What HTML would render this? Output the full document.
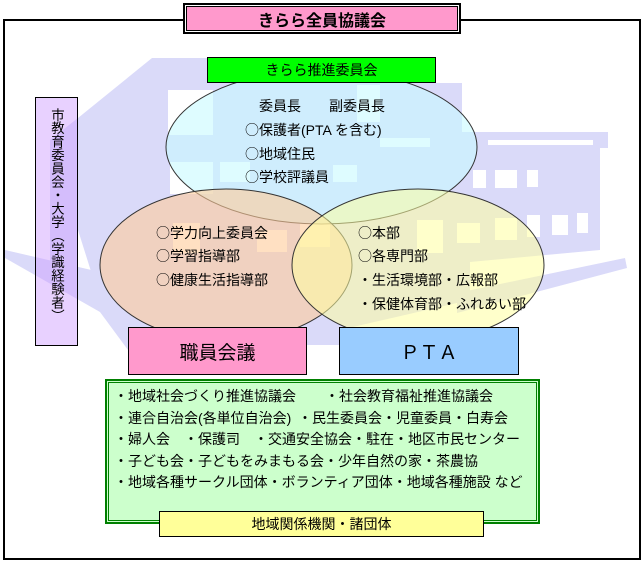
<!DOCTYPE html>
<html><head><meta charset="utf-8">
<style>
*{margin:0;padding:0;box-sizing:border-box}
html,body{width:642px;height:562px;background:#fff;overflow:hidden}
body{position:relative;font-family:"Liberation Sans","Noto Sans CJK JP",sans-serif;color:#000}
.a{position:absolute}
.t{position:absolute;font-size:14px;line-height:16px;white-space:nowrap}
.c{display:flex;align-items:center;justify-content:center}
.o{font-family:"Noto Sans CJK JP",sans-serif;}
</style></head><body>

<svg class="a" style="left:0;top:0" width="642" height="562" viewBox="0 0 642 562">
 <g fill="#dadaf9">
  <polygon points="152,58 436,58 436,83 462,83 462,132 608,132 608,148 600,148 600,250 470,262 470,300 340,330 340,345 128,345 100,300 78,230 78,118"/>
  <polygon points="78,118 50,140 50,262 78,300"/>
  <polygon points="5,250 100,272 128,282 128,350 100,312 5,258"/>
  <polygon points="457,293 625,258 627,268 457,313"/>
 </g>
 <g fill="#ffffff">
  <rect x="168" y="90" width="45" height="45"/>
  <rect x="170" y="162" width="43" height="32"/>
  <rect x="357" y="85" width="23" height="37"/>
  <rect x="380" y="138" width="50" height="9"/>
  <rect x="220" y="162" width="30" height="20"/>
  <rect x="333" y="165" width="24" height="17"/>
  <rect x="173" y="223" width="27" height="30"/>
  <rect x="257" y="230" width="30" height="22"/>
  <rect x="300" y="223" width="30" height="24"/>
  <rect x="417" y="220" width="26" height="33"/>
  <rect x="457" y="223" width="23" height="20"/>
  <rect x="473" y="170" width="13" height="18"/>
  <rect x="495" y="170" width="22" height="18"/>
  <rect x="527" y="170" width="11" height="17"/>
  <rect x="495" y="218" width="22" height="22"/>
  <rect x="527" y="215" width="13" height="22"/>
  <rect x="552" y="215" width="16" height="20"/>
  <rect x="577" y="213" width="11" height="20"/>
  <rect x="488" y="140" width="105" height="5"/>
 </g>
 <ellipse cx="321.5" cy="147" rx="155.5" ry="77" fill="rgba(200,250,255,0.6)" stroke="#333" stroke-width="1"/>
 <ellipse cx="226" cy="265" rx="126" ry="76" fill="rgba(255,204,153,0.6)" stroke="#333" stroke-width="1"/>
 <ellipse cx="418" cy="265" rx="126" ry="76" fill="rgba(255,255,160,0.55)" stroke="#333" stroke-width="1"/>
</svg>

<!-- outer frame -->
<div class="a" style="left:3px;top:19px;width:638px;height:541px;border:2px solid #000;"></div>

<!-- title -->
<div class="a" style="left:183px;top:3px;width:278px;height:31px;border:2px solid #000;background:#fff;padding:1px;">
 <div class="c" style="width:100%;height:100%;border:1px solid #000;background:#ff99cc;font-size:16px;font-weight:bold;">きらら全員協議会</div>
</div>

<!-- green header -->
<div class="a c" style="left:207px;top:57px;width:229px;height:26px;background:#00ff00;border:1px solid #000;font-size:14px;">きらら推進委員会</div>

<!-- blue ellipse text -->
<div class="t" style="left:259px;top:98px;">委員長</div>
<div class="t" style="left:329px;top:98px;">副委員長</div>
<div class="t" style="left:245px;top:122px;"><span class="o">○</span>保護者(PTA を含む)</div>
<div class="t" style="left:245px;top:146px;"><span class="o">○</span>地域住民</div>
<div class="t" style="left:245px;top:169px;"><span class="o">○</span>学校評議員</div>

<!-- orange ellipse text -->
<div class="t" style="left:156px;top:225px;"><span class="o">○</span>学力向上委員会</div>
<div class="t" style="left:156px;top:248px;"><span class="o">○</span>学習指導部</div>
<div class="t" style="left:156px;top:272px;"><span class="o">○</span>健康生活指導部</div>

<!-- yellow ellipse text -->
<div class="t" style="left:358px;top:225px;"><span class="o">○</span>本部</div>
<div class="t" style="left:358px;top:248px;"><span class="o">○</span>各専門部</div>
<div class="t" style="left:358px;top:272px;">・生活環境部・広報部</div>
<div class="t" style="left:358px;top:296px;">・保健体育部・ふれあい部</div>

<!-- purple vertical box -->
<div class="a" style="left:35px;top:97px;width:43px;height:249px;background:rgba(204,153,255,0.45);border:1px solid #000;"></div>
<div class="a" style="left:49px;top:108px;writing-mode:vertical-rl;font-size:13.4px;line-height:14px;white-space:nowrap;">市教育委員会・大学（学識経験者）</div>

<!-- pink / blue boxes -->
<div class="a c" style="left:128px;top:327px;width:179px;height:48px;background:#ff99cc;border:1px solid #000;font-size:19px;">職員会議</div>
<div class="a c" style="left:339px;top:327px;width:180px;height:48px;background:#99ccff;border:1px solid #000;font-size:19px;">ＰＴＡ</div>

<!-- green bottom box -->
<div class="a" style="left:105px;top:379px;width:435px;height:145px;background:#ccffcc;border:2px solid #008000;">
 <div class="a" style="left:1px;top:1px;right:1px;bottom:1px;border:1px solid #008000;"></div>
</div>
<div class="t" style="left:114px;top:388px;">・地域社会づくり推進協議会</div>
<div class="t" style="left:325px;top:388px;">・社会教育福祉推進協議会</div>
<div class="t" style="left:114px;top:410px;">・連合自治会(各単位自治会)</div>
<div class="t" style="left:298px;top:410px;">・民生委員会・児童委員・白寿会</div>
<div class="t" style="left:114px;top:431px;">・婦人会</div>
<div class="t" style="left:184px;top:431px;">・保護司</div>
<div class="t" style="left:254px;top:431px;">・交通安全協会・駐在・地区市民センター</div>
<div class="t" style="left:114px;top:453px;">・子ども会・子どもをみまもる会・少年自然の家・茶農協</div>
<div class="t" style="left:114px;top:474px;">・地域各種サークル団体・ボランティア団体・地域各種施設 など</div>

<!-- yellow label -->
<div class="a c" style="left:159px;top:511px;width:325px;height:26px;background:#ffff99;border:1px solid #000;font-size:14px;">地域関係機関・諸団体</div>

</body></html>
